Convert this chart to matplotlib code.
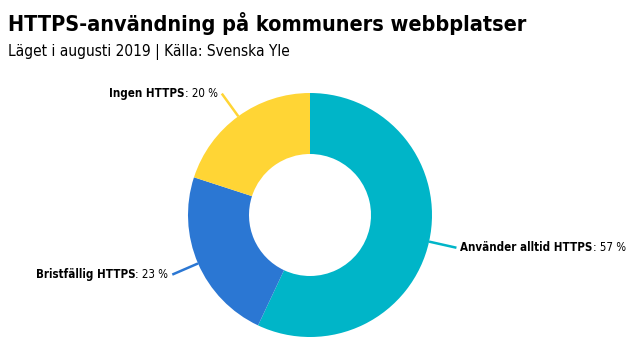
import matplotlib
matplotlib.use("Agg")
import numpy as np
import matplotlib.pyplot as plt

# data
labels = ["Använder alltid HTTPS", "Bristfällig HTTPS", "Ingen HTTPS"]
values = [57, 23, 20]
colors = ["#00b5c8", "#2b77d3", "#ffd535"]

title = "HTTPS-användning på kommuners webbplatser"
subtitle = "Läget i augusti 2019 | Källa: Svenska Yle"

plt.rcParams["font.family"] = ["DejaVu Sans"]
plt.rcParams["font.stretch"] = "condensed"

fig = plt.figure(figsize=(6.4, 3.6), dpi=100)
ax = fig.add_axes([0, 0, 1, 1])

cx, cy, r = 310, 145, 122
wedges, _ = ax.pie(values, colors=colors, startangle=90, counterclock=False,
                   center=(cx, cy), radius=r, frame=True,
                   wedgeprops=dict(width=r * 0.5, edgecolor="none"))
ax.set_xlim(0, 640)
ax.set_ylim(0, 360)
ax.set_aspect("equal")
ax.axis("off")

fig.text(8 / 640, 1 - 31 / 360, title, fontsize=15.5, fontweight="bold", va="baseline", ha="left")
fig.text(8 / 640, 1 - 56 / 360, subtitle, fontsize=11.1, va="baseline", ha="left")

fig.canvas.draw()
renderer = fig.canvas.get_renderer()

fs = 8.3
for w, lab, val, col in zip(wedges, labels, values, colors):
    ang = np.deg2rad((w.theta1 + w.theta2) / 2)
    x0, y0 = cx + r * np.cos(ang), cy + r * np.sin(ang)
    x1, y1 = cx + 1.23 * r * np.cos(ang), cy + 1.23 * r * np.sin(ang)
    ax.plot([x0, x1], [y0, y1], color=col, lw=1.8, solid_capstyle="butt")
    rest = ": %d %%" % val
    if np.cos(ang) >= 0:
        t1 = ax.text(x1 + 4, y1, lab, fontsize=fs, fontweight="bold", ha="left", va="center")
        bb = t1.get_window_extent(renderer)
        xe = ax.transData.inverted().transform((bb.x1, 0))[0]
        ax.text(xe, y1, rest, fontsize=fs, ha="left", va="center")
    else:
        t2 = ax.text(x1 - 4, y1, rest, fontsize=fs, ha="right", va="center")
        bb = t2.get_window_extent(renderer)
        xs = ax.transData.inverted().transform((bb.x0, 0))[0]
        ax.text(xs, y1, lab, fontsize=fs, fontweight="bold", ha="right", va="center")

fig.savefig("out.png", dpi=100)
